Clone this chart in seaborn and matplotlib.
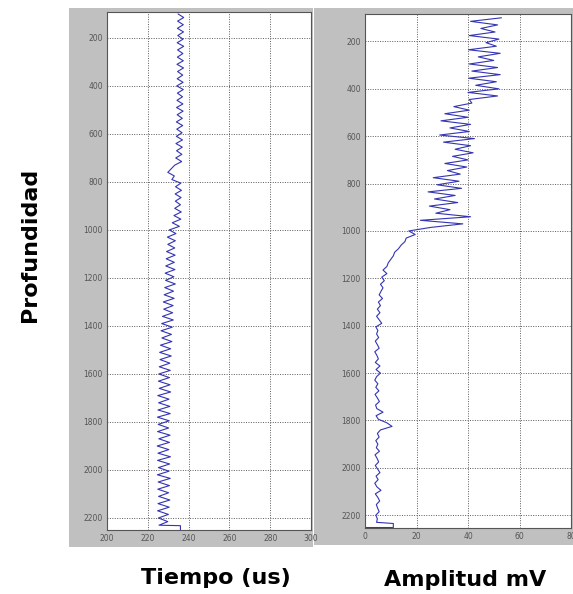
import numpy as np
import pandas as pd
import matplotlib
matplotlib.use("Agg")
import matplotlib.pyplot as plt
import seaborn as sns
from matplotlib.patches import Rectangle

sns.set_theme(style="whitegrid")
plt.rcParams['font.family'] = ['DejaVu Sans']

# ---------------- data ----------------
depth_tiempo = list(range(100, 2231, 15)) + [2232, 2255]
tiempo_us = [
    234.8, 237.6, 234.6, 237.4, 234.5, 237.5, 234.7, 237.3, 234.4, 237.6,
    234.6, 237.2, 234.5, 237.4, 234.3, 237.5, 234.6, 237.1, 234.4, 237.3,
    234.2, 237.4, 234.5, 237.0, 234.3, 237.2, 234.1, 237.3, 234.4, 236.9,
    234.0, 237.1, 234.2, 236.8, 234.0, 237.0, 233.8, 236.9, 234.1, 236.7,
    233.7, 236.6, 233.2, 231.5, 229.8, 233.0, 231.8, 236.2, 233.6, 236.5,
    233.4, 236.3, 233.5, 236.0, 233.2, 236.4, 232.8,
    236.2, 232.0, 235.5, 230.5, 233.8, 229.6, 233.5, 229.8, 233.2, 229.2,
    233.4, 229.0, 233.0, 228.8, 233.3, 228.5, 232.8, 228.7, 233.5, 228.3,
    232.6, 228.0, 232.9, 227.6, 232.4, 227.8, 232.2, 227.2, 232.5, 226.8,
    232.0, 226.5, 231.6, 226.9, 231.8, 226.2, 231.2, 225.8, 231.5, 226.0,
    230.8, 225.6, 231.0, 225.4,
    230.6, 225.2, 230.9, 225.6, 231.2, 224.9, 230.4, 225.3, 230.8, 225.0,
    231.0, 224.7, 230.5, 225.1, 230.2, 224.8, 230.9, 225.4, 230.6, 224.6,
    230.3, 225.0, 231.1, 224.8, 230.7, 225.2, 230.4, 224.7, 231.0, 225.1,
    230.6, 224.9, 230.2, 225.3, 230.8, 225.0, 230.5, 224.8, 230.1, 225.2,
    229.8, 225.5,
    236.0, 236.0,
]

depth_amp = list(range(100, 2231, 15)) + [2235, 2252, 2252]
amplitud_mv = [
    53.0, 41.0, 51.5, 45.0, 50.5, 40.5, 52.0, 47.0, 51.0, 40.2,
    52.5, 44.0, 50.0, 40.5, 51.5, 41.5, 52.5, 40.3, 51.0, 43.0,
    52.0, 40.0, 51.5, 40.5,
    41.5, 34.5, 40.5, 31.0, 40.0, 29.5, 41.0, 33.0, 40.5, 29.0,
    42.5, 30.5, 41.0, 35.0, 42.0, 34.0, 40.0, 31.0, 39.5, 32.0,
    37.0, 26.5, 36.5, 28.0, 37.5, 24.5, 35.0, 27.0, 36.0, 25.0,
    33.0, 27.5, 41.0, 21.5, 38.0, 25.5,
    17.0, 19.5, 16.0, 15.5, 14.0, 13.0, 11.5, 11.0, 10.0, 9.0,
    8.5, 7.0, 8.5, 6.5, 7.5, 6.0, 7.0, 6.2, 5.5, 6.8,
    5.2, 6.0, 4.8, 5.8, 4.5, 5.5, 6.5, 4.2, 5.0, 4.5,
    5.3, 4.0, 4.8, 5.5, 3.8, 4.6, 5.2, 4.0, 5.8, 4.3,
    6.0, 4.5, 3.8, 5.0, 4.2, 5.4, 3.9, 4.8, 5.6, 4.1,
    4.6, 7.0, 4.3, 5.2, 8.5, 10.5, 6.0, 4.8, 5.5, 4.2,
    5.0, 4.4, 5.6, 3.9, 4.7, 5.3, 4.0, 4.9, 5.8, 4.3,
    5.1, 3.8, 4.6, 6.2, 4.0, 5.0, 5.7, 4.4, 4.9, 5.5,
    4.2, 4.8, 4.5,
    11.0, 11.0, 0.3,
]

xticks_tiempo = [200, 220, 240, 260, 280, 300]
xticks_amp = [0, 20, 40, 60, 80]
yticks_depth = [200, 400, 600, 800, 1000, 1200, 1400, 1600, 1800, 2000, 2200]

label_depth = "Profundidad"
label_tiempo = "Tiempo (us)"
label_amp = "Amplitud mV"

# ---------------- figure ----------------
W, H = 573, 594
fig = plt.figure(figsize=(W / 100, H / 100), dpi=100)
fig.patch.set_facecolor("white")

gray = "#c0c0c0"
def px_rect(x0, y0, x1, y1):
    return Rectangle((x0 / W, 1 - y1 / H), (x1 - x0) / W, (y1 - y0) / H,
                     transform=fig.transFigure, facecolor=gray,
                     edgecolor="none", zorder=-10)

fig.patches.append(px_rect(69, 8, 313, 547))
fig.patches.append(px_rect(314, 8, 573, 545))

ax1 = fig.add_axes([107 / W, (H - 530) / H, 204 / W, 518 / H])
ax2 = fig.add_axes([365 / W, (H - 528) / H, 206 / W, 514 / H])
ax1.set_zorder(5)
ax2.set_zorder(5)

line_color = "#3434b4"
df_t = pd.DataFrame({"tiempo": tiempo_us, "depth": depth_tiempo})
df_a = pd.DataFrame({"amp": amplitud_mv, "depth": depth_amp})

sns.lineplot(data=df_t, x="tiempo", y="depth", sort=False, estimator=None,
             ax=ax1, color=line_color, lw=0.8)
sns.lineplot(data=df_a, x="amp", y="depth", sort=False, estimator=None,
             ax=ax2, color=line_color, lw=0.8)

for ax, xt, xl, yl in [(ax1, xticks_tiempo, (200, 300), (2250, 92)),
                       (ax2, xticks_amp, (0, 80), (2254, 84))]:
    ax.set_facecolor("white")
    ax.set_xlim(*xl)
    ax.set_ylim(*yl)
    ax.set_xticks(xt)
    ax.set_yticks(yticks_depth)
    ax.set_xlabel("")
    ax.set_ylabel("")
    ax.grid(True, linestyle=(0, (1, 1.5)), color="#5a5a5a", lw=0.7)
    ax.tick_params(direction="in", length=3, width=0.6, color="#444444",
                   labelsize=5.5, labelcolor="#555555", pad=3)
    for s in ax.spines.values():
        s.set_visible(True)
        s.set_color("#555555")
        s.set_linewidth(0.8)

fig.text(30 / W, 1 - 245 / H, label_depth, rotation=90, ha="center",
         va="center", fontsize=16, fontweight="bold", color="black")
fig.text(216 / W, 1 - 578 / H, label_tiempo, ha="center", va="center",
         fontsize=16, fontweight="bold", color="black")
fig.text(465 / W, 1 - 580 / H, label_amp, ha="center", va="center",
         fontsize=16, fontweight="bold", color="black")

fig.savefig("out.png", dpi=100)
